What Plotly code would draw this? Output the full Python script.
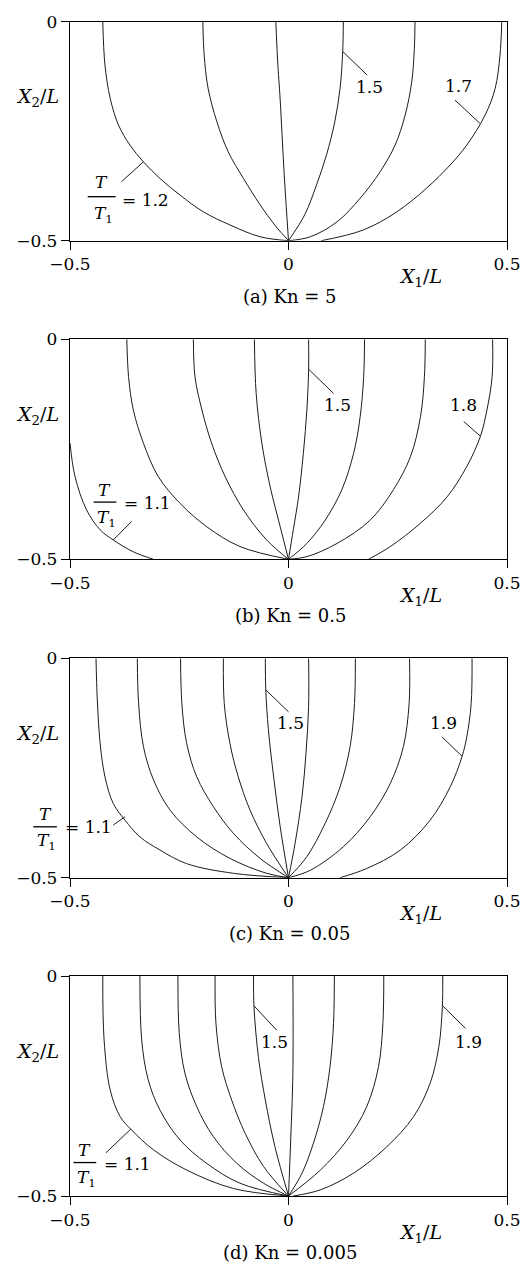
import plotly.graph_objects as go

# Isotherms T/T1 in the half cavity, one dict per Knudsen number:
# level -> (X1/L points, X2/L points)
KN_5 = {
    "1.2": ([-0.425, -0.420, -0.408, -0.389, -0.363, -0.332, -0.294, -0.248, -0.195, -0.134, -0.065, 0.0],
            [0.0, -0.099, -0.175, -0.236, -0.2815, -0.320, -0.358, -0.396, -0.434, -0.464, -0.491, -0.5]),
    "1.3": ([-0.196, -0.193, -0.184, -0.164, -0.138, -0.103, -0.065, -0.030, 0.0],
            [0.0, -0.076, -0.152, -0.228, -0.297, -0.358, -0.418, -0.466, -0.5]),
    "1.4": ([-0.029, -0.025, -0.019, -0.010, 0.0],
            [0.0, -0.0875, -0.179, -0.346, -0.5]),
    "1.5": ([0.1255, 0.124, 0.118, 0.106, 0.087, 0.064, 0.037, 0.0],
            [0.0, -0.068, -0.152, -0.228, -0.304, -0.373, -0.441, -0.5]),
    "1.6": ([0.2895, 0.288, 0.282, 0.267, 0.244, 0.210, 0.164, 0.111, 0.050, 0.0],
            [0.0, -0.061, -0.137, -0.213, -0.2815, -0.342, -0.403, -0.457, -0.491, -0.5]),
    "1.7": ([0.488, 0.484, 0.473, 0.450, 0.408, 0.370, 0.316, 0.248, 0.171, 0.075],
            [0.0, -0.076, -0.152, -0.213, -0.2815, -0.327, -0.380, -0.434, -0.4756, -0.5]),
}

KN_05 = {
    "1.1": ([-0.5, -0.4885, -0.462, -0.431, -0.401, -0.355, -0.309],
            [-0.236, -0.312, -0.388, -0.433, -0.456, -0.483, -0.5]),
    "1.2": ([-0.370, -0.366, -0.355, -0.332, -0.298, -0.248, -0.187, -0.111, 0.0],
            [0.0, -0.085, -0.161, -0.236, -0.312, -0.373, -0.426, -0.471, -0.5]),
    "1.3": ([-0.2176, -0.214, -0.198, -0.176, -0.145, -0.103, -0.050, 0.0],
            [0.0, -0.085, -0.161, -0.236, -0.312, -0.388, -0.456, -0.5]),
    "1.4": ([-0.078, -0.074, -0.061, -0.042, -0.019, 0.0],
            [0.0, -0.123, -0.236, -0.335, -0.426, -0.5]),
    "1.5": ([0.046, 0.046, 0.042, 0.034, 0.023, 0.011, 0.0],
            [0.0, -0.070, -0.161, -0.259, -0.358, -0.433, -0.5]),
    "1.6": ([0.174, 0.172, 0.164, 0.149, 0.122, 0.084, 0.042, 0.0],
            [0.0, -0.085, -0.176, -0.259, -0.342, -0.411, -0.464, -0.5]),
    "1.7": ([0.313, 0.311, 0.302, 0.279, 0.240, 0.187, 0.111, 0.042, 0.0],
            [0.0, -0.085, -0.176, -0.267, -0.342, -0.411, -0.464, -0.494, -0.5]),
    "1.8": ([0.467, 0.466, 0.454, 0.439, 0.408, 0.363, 0.302, 0.233, 0.183],
            [0.0, -0.085, -0.161, -0.221, -0.289, -0.358, -0.418, -0.471, -0.5]),
}

KN_005 = {
    "1.1": ([-0.4405, -0.4375, -0.431, -0.420, -0.401, -0.374, -0.340, -0.294, -0.233, -0.126, 0.0],
            [0.0, -0.095, -0.194, -0.270, -0.331, -0.369, -0.407, -0.437, -0.468, -0.490, -0.5]),
    "1.2": ([-0.346, -0.343, -0.332, -0.309, -0.271, -0.210, -0.134, -0.050, 0.0],
            [0.0, -0.103, -0.201, -0.277, -0.346, -0.407, -0.456, -0.490, -0.5]),
    "1.3": ([-0.247, -0.244, -0.233, -0.210, -0.172, -0.126, -0.065, 0.0],
            [0.0, -0.103, -0.194, -0.270, -0.338, -0.399, -0.456, -0.5]),
    "1.4": ([-0.149, -0.147, -0.134, -0.115, -0.088, -0.050, 0.0],
            [0.0, -0.103, -0.194, -0.270, -0.346, -0.422, -0.5]),
    "1.5": ([-0.053, -0.052, -0.046, -0.034, -0.019, 0.0],
            [0.0, -0.072, -0.163, -0.270, -0.384, -0.5]),
    "1.6": ([0.046, 0.046, 0.040, 0.031, 0.015, 0.0],
            [0.0, -0.110, -0.217, -0.315, -0.422, -0.5]),
    "1.7": ([0.153, 0.151, 0.141, 0.118, 0.084, 0.042, 0.0],
            [0.0, -0.103, -0.201, -0.293, -0.376, -0.452, -0.5]),
    "1.8": ([0.277, 0.276, 0.263, 0.233, 0.187, 0.126, 0.050, 0.0],
            [0.0, -0.103, -0.201, -0.285, -0.361, -0.429, -0.483, -0.5]),
    "1.9": ([0.420, 0.418, 0.408, 0.397, 0.370, 0.324, 0.256, 0.179, 0.118],
            [0.0, -0.103, -0.179, -0.224, -0.293, -0.369, -0.437, -0.479, -0.5]),
}

KN_0005 = {
    "1.1": ([-0.425, -0.422, -0.408, -0.385, -0.359, -0.309, -0.233, -0.126, 0.0],
            [0.0, -0.145, -0.259, -0.320, -0.350, -0.395, -0.441, -0.483, -0.5]),
    "1.2": ([-0.340, -0.336, -0.321, -0.294, -0.248, -0.187, -0.111, 0.0],
            [0.0, -0.145, -0.236, -0.305, -0.373, -0.426, -0.471, -0.5]),
    "1.3": ([-0.253, -0.250, -0.237, -0.210, -0.172, -0.118, -0.057, 0.0],
            [0.0, -0.130, -0.221, -0.297, -0.365, -0.426, -0.471, -0.5]),
    "1.4": ([-0.168, -0.166, -0.153, -0.130, -0.099, -0.057, 0.0],
            [0.0, -0.108, -0.206, -0.282, -0.358, -0.433, -0.5]),
    "1.5": ([-0.080, -0.079, -0.069, -0.053, -0.031, 0.0],
            [0.0, -0.070, -0.183, -0.282, -0.388, -0.5]),
    "1.6": ([0.010, 0.010, 0.005, 0.0],
            [0.0, -0.221, -0.373, -0.5]),
    "1.7": ([0.105, 0.103, 0.095, 0.080, 0.057, 0.031, 0.0],
            [0.0, -0.108, -0.206, -0.297, -0.380, -0.448, -0.5]),
    "1.8": ([0.218, 0.216, 0.206, 0.179, 0.134, 0.073, 0.0],
            [0.0, -0.108, -0.206, -0.297, -0.373, -0.441, -0.5]),
    "1.9": ([0.353, 0.352, 0.344, 0.324, 0.286, 0.225, 0.149, 0.073, 0.011],
            [0.0, -0.070, -0.161, -0.244, -0.320, -0.388, -0.448, -0.486, -0.5]),
}

CAPTIONS = ["(a) Kn = 5", "(b) Kn = 0.5", "(c) Kn = 0.05", "(d) Kn = 0.005"]

# Level labels: (text, text X1, text X2, leader start X1, X2, leader end X1, X2)
LABELS = [
    [("1.5", 0.185, -0.148, 0.124, -0.068, 0.180, -0.122),
     ("1.7", 0.389, -0.147, 0.438, -0.232, 0.381, -0.179)],
    [("1.5", 0.111, -0.149, 0.046, -0.068, 0.103, -0.123),
     ("1.8", 0.401, -0.149, 0.439, -0.220, 0.401, -0.187)],
    [("1.5", 0.004, -0.148, -0.052, -0.072, 0.0, -0.122),
     ("1.9", 0.355, -0.148, 0.397, -0.223, 0.351, -0.179)],
    [("1.5", -0.033, -0.149, -0.079, -0.068, -0.027, -0.123),
     ("1.9", 0.412, -0.149, 0.353, -0.068, 0.405, -0.119)],
]

# T/T1 = value label: (value, fraction X1, T X2, bar X2, T1 X2, bar half width,
#                      "= value" X1, "= value" X2, leader x0, y0, x1, y1)
RATIO = [
    ("1.2", -0.4275, -0.365, -0.3995, -0.441, 0.032, -0.328, -0.407,
     -0.382, -0.365, -0.332, -0.320),
    ("1.1", -0.420, -0.342, -0.370, -0.407, 0.026, -0.323, -0.371,
     -0.401, -0.456, -0.359, -0.414),
    ("1.1", -0.557, -0.354, -0.384, -0.418, 0.027, -0.458, -0.384,
     -0.401, -0.380, -0.374, -0.361),
    ("1.1", -0.466, -0.395, -0.424, -0.460, 0.026, -0.369, -0.428,
     -0.361, -0.348, -0.418, -0.402),
]

W, H = 527, 1264
PLOT_LEFT, PLOT_RIGHT = 70, 507
PANEL_ROWS = [(21.7, 240.7), (339.3, 559.3), (658.3, 877.7), (976.0, 1196.0)]
SERIF = "DejaVu Serif"
INK = "#1c1c1c"


def to_paper(i, x1, x2):
    """Map panel-i data coordinates to paper coordinates."""
    top, bot = PANEL_ROWS[i]
    px = PLOT_LEFT + (x1 + 0.5) * (PLOT_RIGHT - PLOT_LEFT)
    py = top + (-x2 / 0.5) * (bot - top)
    return px / W, 1 - py / H


def label(text, px, py, size=17):
    return dict(text=text, xref="paper", yref="paper", x=px, y=py,
                xanchor="center", yanchor="middle", showarrow=False,
                font=dict(family=SERIF, size=size, color="black"))


def text_at(i, text, x1, x2, size=17):
    px, py = to_paper(i, x1, x2)
    return label(text, px, py, size)


def segment(i, x0, y0, x1, y1, width=1.0, color=INK):
    a, b = to_paper(i, x0, y0)
    c, d = to_paper(i, x1, y1)
    return dict(type="line", xref="paper", yref="paper", x0=a, y0=b, x1=c, y1=d,
                line=dict(color=color, width=width))


fig = go.Figure()
annotations = []
shapes = []

datasets = [KN_5, KN_05, KN_005, KN_0005]
for i, data in enumerate(datasets):
    n = "" if i == 0 else str(i + 1)
    xa, ya = "x" + n, "y" + n
    top, bot = PANEL_ROWS[i]

    for level, (xs, ys) in data.items():
        fig.add_trace(go.Scatter(
            x=xs, y=ys, mode="lines", xaxis=xa, yaxis=ya,
            line=dict(color=INK, width=1, shape="spline", smoothing=1.0),
            showlegend=False, hoverinfo="skip", name=level,
        ))

    axis_common = dict(
        showline=True, mirror=True, linecolor="black", linewidth=1.3,
        ticks="outside", ticklen=8, tickwidth=1.3, tickcolor="black",
        showgrid=False, zeroline=False, fixedrange=True, automargin=False,
        tickfont=dict(family=SERIF, size=17, color="black"),
    )
    fig.update_layout(**{
        ("xaxis" + n): dict(
            domain=[PLOT_LEFT / W, PLOT_RIGHT / W], range=[-0.5, 0.5],
            tickvals=[-0.5, 0, 0.5], ticktext=["\u22120.5", "0", "0.5"],
            anchor=ya, **axis_common),
        ("yaxis" + n): dict(
            domain=[1 - bot / H, 1 - top / H], range=[-0.5, 0],
            tickvals=[-0.5, 0], ticktext=["\u22120.5", "0"],
            anchor=xa, **axis_common),
    })

    # axis titles and caption
    annotations.append(label("<i>X</i><sub>2</sub>/<i>L</i>",
                             37 / W, 1 - (top + 76) / H, size=19))
    annotations.append(label("<i>X</i><sub>1</sub>/<i>L</i>",
                             420 / W, 1 - (bot + 37) / H, size=19))
    annotations.append(label(CAPTIONS[i], 290 / W, 1 - (bot + 56) / H, size=18))

    # level labels with leader lines
    for text, tx, ty, lx0, ly0, lx1, ly1 in LABELS[i]:
        annotations.append(text_at(i, text, tx, ty))
        shapes.append(segment(i, lx0, ly0, lx1, ly1))

    # T/T1 = value
    (val, fx, ty, by, t1y, hw, ex, ey, lx0, ly0, lx1, ly1) = RATIO[i]
    annotations.append(text_at(i, "<i>T</i>", fx, ty))
    annotations.append(text_at(i, "<i>T</i><sub>1</sub>", fx + 0.004, t1y))
    annotations.append(text_at(i, "= " + val, ex, ey))
    shapes.append(segment(i, fx - hw, by, fx + hw, by, width=1.3, color="black"))
    shapes.append(segment(i, lx0, ly0, lx1, ly1))

fig.update_layout(
    template="none",
    width=W, height=H, margin=dict(l=0, r=0, t=0, b=0, pad=0),
    paper_bgcolor="white", plot_bgcolor="white",
    annotations=annotations, shapes=shapes, showlegend=False,
)

fig.write_html("out.html", config={"displayModeBar": False})
